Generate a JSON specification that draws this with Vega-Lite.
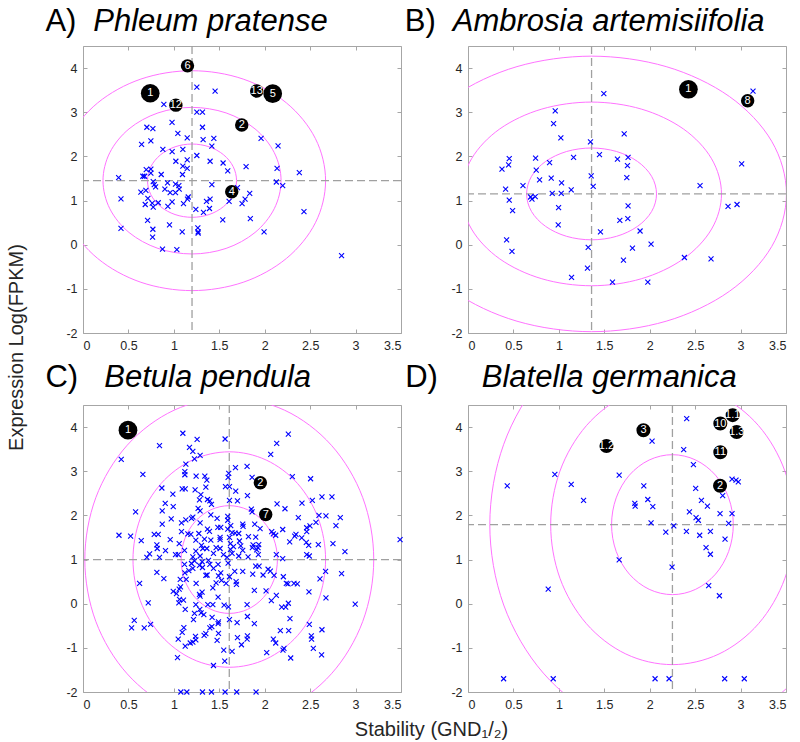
{
"$schema": "https://vega.github.io/schema/vega-lite/v6.json",
"background": "white",
"padding": {"left": 5, "top": 5, "right": 5, "bottom": 5},
"config": {
  "font": "Liberation Sans",
  "view": {"stroke": "#a6a6a6"},
  "axis": {"grid": false, "domain": false, "tickColor": "#a6a6a6", "tickSize": -4, "labelFontSize": 12.5, "labelColor": "#262626", "labelPadding": 10, "labelFont": "Liberation Sans", "titleFont": "Liberation Sans", "titleFontWeight": "normal", "titleFontSize": 20, "titleColor": "#262626"}
},
"datasets": {
"A": [{"x":1.253,"y":3.57},{"x":1.454,"y":3.48},{"x":0.89,"y":3.18},{"x":1.253,"y":3.0},{"x":1.315,"y":3.0},{"x":0.98,"y":2.77},{"x":0.703,"y":2.66},{"x":0.769,"y":2.63},{"x":1.315,"y":2.66},{"x":1.044,"y":2.52},{"x":0.645,"y":2.27},{"x":0.747,"y":2.35},{"x":1.147,"y":2.42},{"x":1.322,"y":2.38},{"x":1.44,"y":2.41},{"x":1.418,"y":2.23},{"x":0.879,"y":2.16},{"x":0.981,"y":2.11},{"x":1.099,"y":2.16},{"x":1.96,"y":2.41},{"x":2.147,"y":2.24},{"x":1.253,"y":2.02},{"x":1.022,"y":1.89},{"x":1.147,"y":1.92},{"x":1.399,"y":1.89},{"x":1.542,"y":1.85},{"x":1.593,"y":1.67},{"x":1.795,"y":1.77},{"x":2.136,"y":1.73},{"x":2.381,"y":1.63},{"x":0.696,"y":1.7},{"x":0.747,"y":1.71},{"x":0.747,"y":1.62},{"x":1.099,"y":1.78},{"x":1.147,"y":1.73},{"x":1.095,"y":1.59},{"x":0.861,"y":1.59},{"x":0.392,"y":1.52},{"x":0.659,"y":1.55},{"x":0.678,"y":1.55},{"x":0.773,"y":1.43},{"x":0.784,"y":1.36},{"x":0.799,"y":1.31},{"x":0.93,"y":1.4},{"x":1.018,"y":1.37},{"x":1.055,"y":1.34},{"x":1.059,"y":1.26},{"x":0.901,"y":1.26},{"x":0.959,"y":1.18},{"x":1.018,"y":1.18},{"x":0.692,"y":1.23},{"x":0.637,"y":1.19},{"x":0.714,"y":1.05},{"x":0.418,"y":1.04},{"x":0.685,"y":0.91},{"x":0.762,"y":0.94},{"x":0.773,"y":0.85},{"x":0.828,"y":0.95},{"x":0.981,"y":0.97},{"x":0.934,"y":0.87},{"x":1.106,"y":0.93},{"x":1.15,"y":1.03},{"x":1.158,"y":1.08},{"x":1.418,"y":1.36},{"x":1.399,"y":1.03},{"x":1.359,"y":0.98},{"x":1.392,"y":0.82},{"x":1.326,"y":0.73},{"x":1.242,"y":0.8},{"x":1.608,"y":0.98},{"x":1.7,"y":1.29},{"x":1.751,"y":0.93},{"x":1.784,"y":1.03},{"x":1.835,"y":1.16},{"x":2.128,"y":1.42},{"x":2.198,"y":1.34},{"x":1.842,"y":0.59},{"x":1.538,"y":0.56},{"x":0.711,"y":0.55},{"x":0.952,"y":0.45},{"x":0.418,"y":0.37},{"x":0.769,"y":0.35},{"x":0.766,"y":0.17},{"x":1.092,"y":0.29},{"x":1.264,"y":0.38},{"x":1.267,"y":0.29},{"x":1.267,"y":0.26},{"x":1.993,"y":0.29},{"x":2.432,"y":0.75},{"x":0.875,"y":-0.1},{"x":1.033,"y":-0.11},{"x":2.846,"y":-0.25}],
"B": [{"x":1.495,"y":3.42},{"x":3.137,"y":3.48},{"x":0.96,"y":3.03},{"x":0.942,"y":2.74},{"x":1.022,"y":2.42},{"x":1.719,"y":2.51},{"x":1.348,"y":2.33},{"x":1.447,"y":2.04},{"x":1.645,"y":1.94},{"x":1.762,"y":1.98},{"x":1.755,"y":1.79},{"x":1.748,"y":1.52},{"x":1.162,"y":1.98},{"x":0.898,"y":1.86},{"x":0.454,"y":1.95},{"x":0.447,"y":1.81},{"x":0.374,"y":1.71},{"x":0.744,"y":1.96},{"x":0.751,"y":1.69},{"x":0.788,"y":1.47},{"x":0.916,"y":1.51},{"x":1.03,"y":1.4},{"x":1.356,"y":1.56},{"x":1.378,"y":1.32},{"x":1.136,"y":1.24},{"x":0.605,"y":1.34},{"x":0.414,"y":1.26},{"x":0.927,"y":1.16},{"x":1.026,"y":1.16},{"x":0.689,"y":1.08},{"x":0.704,"y":1.03},{"x":0.74,"y":1.09},{"x":0.454,"y":1.01},{"x":0.491,"y":0.77},{"x":0.997,"y":0.84},{"x":0.993,"y":0.45},{"x":1.762,"y":0.88},{"x":1.759,"y":0.59},{"x":1.671,"y":0.55},{"x":1.458,"y":0.29},{"x":1.894,"y":0.31},{"x":2.015,"y":0.015},{"x":1.81,"y":-0.08},{"x":1.323,"y":-0.06},{"x":0.425,"y":0.11},{"x":0.484,"y":-0.15},{"x":1.711,"y":-0.35},{"x":2.382,"y":-0.29},{"x":2.675,"y":-0.32},{"x":1.315,"y":-0.53},{"x":1.14,"y":-0.74},{"x":1.59,"y":-0.85},{"x":1.979,"y":-0.85},{"x":2.554,"y":1.34},{"x":3.012,"y":1.83},{"x":2.862,"y":0.87},{"x":2.961,"y":0.91}],
"C": [{"x":1.099,"y":3.86},{"x":1.564,"y":3.73},{"x":1.256,"y":3.72},{"x":2.26,"y":3.84},{"x":2.132,"y":3.63},{"x":0.842,"y":3.58},{"x":1.172,"y":3.54},{"x":1.209,"y":3.45},{"x":1.289,"y":3.36},{"x":1.227,"y":3.28},{"x":1.132,"y":3.16},{"x":0.421,"y":3.27},{"x":2.066,"y":3.38},{"x":1.678,"y":3.08},{"x":1.806,"y":3.11},{"x":1.604,"y":2.95},{"x":1.597,"y":2.86},{"x":1.121,"y":2.99},{"x":1.121,"y":2.92},{"x":0.659,"y":2.93},{"x":1.245,"y":2.89},{"x":1.341,"y":2.89},{"x":1.363,"y":2.8},{"x":1.352,"y":2.64},{"x":1.861,"y":2.86},{"x":2.304,"y":2.88},{"x":2.505,"y":2.83},{"x":0.868,"y":2.62},{"x":1.092,"y":2.6},{"x":1.125,"y":2.6},{"x":1.234,"y":2.58},{"x":1.568,"y":2.65},{"x":1.612,"y":2.65},{"x":1.681,"y":2.55},{"x":0.989,"y":2.48},{"x":1.297,"y":2.47},{"x":1.81,"y":2.45},{"x":2.63,"y":2.42},{"x":2.74,"y":2.42},{"x":2.524,"y":2.34},{"x":0.905,"y":2.27},{"x":1.282,"y":2.35},{"x":1.37,"y":2.36},{"x":1.396,"y":2.33},{"x":1.612,"y":2.34},{"x":1.7,"y":2.33},{"x":2.136,"y":2.26},{"x":2.41,"y":2.28},{"x":0.579,"y":2.08},{"x":0.993,"y":2.2},{"x":1.267,"y":2.16},{"x":1.289,"y":2.1},{"x":1.414,"y":2.25},{"x":0.872,"y":2.1},{"x":2.223,"y":2.15},{"x":1.853,"y":2.14},{"x":1.861,"y":2.08},{"x":1.407,"y":2.01},{"x":1.593,"y":1.98},{"x":1.593,"y":1.89},{"x":1.209,"y":1.96},{"x":1.194,"y":1.93},{"x":1.132,"y":1.9},{"x":0.971,"y":1.92},{"x":2.37,"y":1.95},{"x":2.597,"y":2.0},{"x":2.674,"y":1.99},{"x":2.832,"y":1.95},{"x":1.476,"y":1.93},{"x":1.758,"y":1.8},{"x":1.762,"y":1.75},{"x":1.89,"y":1.8},{"x":1.084,"y":1.83},{"x":1.289,"y":1.83},{"x":0.872,"y":1.8},{"x":1.084,"y":1.63},{"x":1.154,"y":1.58},{"x":1.187,"y":1.57},{"x":1.275,"y":1.59},{"x":1.37,"y":1.69},{"x":1.392,"y":1.64},{"x":1.484,"y":1.73},{"x":1.516,"y":1.73},{"x":1.593,"y":1.69},{"x":1.626,"y":1.77},{"x":1.641,"y":1.61},{"x":1.674,"y":1.6},{"x":1.714,"y":1.59},{"x":1.949,"y":1.7},{"x":2.077,"y":1.63},{"x":2.095,"y":1.58},{"x":2.121,"y":1.55},{"x":2.198,"y":1.68},{"x":2.33,"y":1.53},{"x":2.344,"y":1.57},{"x":2.407,"y":1.49},{"x":2.462,"y":1.72},{"x":2.462,"y":1.63},{"x":2.498,"y":1.76},{"x":2.564,"y":1.84},{"x":2.784,"y":1.77},{"x":0.396,"y":1.55},{"x":0.524,"y":1.53},{"x":0.784,"y":1.57},{"x":0.828,"y":1.57},{"x":0.641,"y":1.43},{"x":0.96,"y":1.45},{"x":0.813,"y":1.33},{"x":0.817,"y":1.25},{"x":1.059,"y":1.36},{"x":1.242,"y":1.44},{"x":1.337,"y":1.46},{"x":1.407,"y":1.44},{"x":1.509,"y":1.5},{"x":1.509,"y":1.45},{"x":1.612,"y":1.5},{"x":1.623,"y":1.36},{"x":1.722,"y":1.42},{"x":1.821,"y":1.52},{"x":1.901,"y":1.51},{"x":1.872,"y":1.33},{"x":1.934,"y":1.34},{"x":1.926,"y":1.27},{"x":1.912,"y":1.22},{"x":1.864,"y":1.27},{"x":1.736,"y":1.31},{"x":1.758,"y":1.21},{"x":1.656,"y":1.29},{"x":1.623,"y":1.23},{"x":1.509,"y":1.25},{"x":1.465,"y":1.27},{"x":1.304,"y":1.32},{"x":1.319,"y":1.25},{"x":1.363,"y":1.25},{"x":1.242,"y":1.19},{"x":1.117,"y":1.21},{"x":0.908,"y":1.2},{"x":1.018,"y":1.11},{"x":1.048,"y":1.11},{"x":2.458,"y":1.39},{"x":2.484,"y":1.32},{"x":2.462,"y":1.11},{"x":2.491,"y":1.08},{"x":2.59,"y":1.34},{"x":2.751,"y":1.36},{"x":2.883,"y":1.18},{"x":2.275,"y":1.4},{"x":2.128,"y":1.11},{"x":2.198,"y":1.02},{"x":0.703,"y":1.05},{"x":0.733,"y":1.13},{"x":0.842,"y":1.05},{"x":1.209,"y":1.06},{"x":1.289,"y":1.08},{"x":1.436,"y":1.14},{"x":1.546,"y":1.11},{"x":1.586,"y":1.05},{"x":1.641,"y":1.14},{"x":1.714,"y":1.08},{"x":1.817,"y":1.06},{"x":1.93,"y":1.11},{"x":1.227,"y":0.97},{"x":1.117,"y":0.89},{"x":1.194,"y":0.91},{"x":1.282,"y":0.87},{"x":1.311,"y":0.95},{"x":1.381,"y":0.98},{"x":1.396,"y":0.89},{"x":1.487,"y":0.89},{"x":1.597,"y":0.92},{"x":1.209,"y":0.8},{"x":1.165,"y":0.75},{"x":1.315,"y":0.82},{"x":1.436,"y":0.8},{"x":1.67,"y":0.73},{"x":1.758,"y":0.73},{"x":1.901,"y":0.85},{"x":1.938,"y":0.85},{"x":2.037,"y":0.78},{"x":2.062,"y":0.74},{"x":1.982,"y":0.65},{"x":1.868,"y":0.67},{"x":2.103,"y":0.64},{"x":2.205,"y":0.61},{"x":2.67,"y":0.73},{"x":2.608,"y":0.56},{"x":2.846,"y":0.68},{"x":1.121,"y":0.7},{"x":0.813,"y":0.71},{"x":0.89,"y":0.57},{"x":1.07,"y":0.55},{"x":1.136,"y":0.55},{"x":1.073,"y":0.38},{"x":1.059,"y":0.33},{"x":1.366,"y":0.65},{"x":1.352,"y":0.64},{"x":1.516,"y":0.7},{"x":1.491,"y":0.63},{"x":1.524,"y":0.53},{"x":1.465,"y":0.47},{"x":1.575,"y":0.46},{"x":1.685,"y":0.5},{"x":1.689,"y":0.44},{"x":1.612,"y":0.61},{"x":1.245,"y":0.46},{"x":1.429,"y":0.36},{"x":1.311,"y":0.26},{"x":1.282,"y":0.21},{"x":1.289,"y":0.17},{"x":1.487,"y":0.15},{"x":1.886,"y":0.3},{"x":2.015,"y":0.29},{"x":2.128,"y":0.19},{"x":2.238,"y":0.46},{"x":2.256,"y":0.45},{"x":2.322,"y":0.46},{"x":2.359,"y":0.45},{"x":2.487,"y":0.27},{"x":2.674,"y":0.13},{"x":0.993,"y":0.28},{"x":1.029,"y":0.23},{"x":1.062,"y":0.1},{"x":1.106,"y":0.08},{"x":0.623,"y":0.46},{"x":0.718,"y":0.02},{"x":1.055,"y":0.02},{"x":1.242,"y":-0.02},{"x":1.374,"y":-0.02},{"x":1.429,"y":-0.02},{"x":1.553,"y":-0.03},{"x":1.601,"y":-0.07},{"x":1.806,"y":-0.02},{"x":2.073,"y":0.07},{"x":2.187,"y":-0.08},{"x":2.231,"y":-0.08},{"x":2.26,"y":0.01},{"x":2.996,"y":-0.01},{"x":1.125,"y":-0.13},{"x":1.286,"y":-0.13},{"x":1.3,"y":-0.21},{"x":1.227,"y":-0.22},{"x":1.33,"y":-0.25},{"x":1.216,"y":-0.36},{"x":1.421,"y":-0.31},{"x":1.491,"y":-0.41},{"x":1.487,"y":-0.45},{"x":1.612,"y":-0.36},{"x":1.696,"y":-0.43},{"x":1.81,"y":-0.29},{"x":1.886,"y":-0.45},{"x":2.278,"y":-0.34},{"x":1.418,"y":-0.52},{"x":1.396,"y":-0.55},{"x":1.352,"y":-0.68},{"x":1.333,"y":-0.72},{"x":1.238,"y":-0.74},{"x":1.242,"y":-0.82},{"x":1.18,"y":-0.89},{"x":1.209,"y":-0.87},{"x":1.125,"y":-0.96},{"x":1.11,"y":-0.54},{"x":1.092,"y":-0.65},{"x":1.048,"y":-0.8},{"x":1.491,"y":-0.67},{"x":1.476,"y":-0.83},{"x":1.7,"y":-0.77},{"x":1.744,"y":-0.93},{"x":1.81,"y":-0.73},{"x":1.806,"y":-0.8},{"x":0.564,"y":-0.38},{"x":0.535,"y":-0.55},{"x":0.674,"y":-0.55},{"x":0.744,"y":-0.47},{"x":2.172,"y":-0.61},{"x":2.264,"y":-0.61},{"x":2.095,"y":-0.8},{"x":2.121,"y":-0.89},{"x":2.212,"y":-1.01},{"x":2.201,"y":-1.05},{"x":2.491,"y":-0.47},{"x":2.513,"y":-0.73},{"x":2.516,"y":-0.8},{"x":2.535,"y":-1.01},{"x":2.63,"y":-0.59},{"x":2.626,"y":-1.16},{"x":2.286,"y":-1.23},{"x":2.022,"y":-1.11},{"x":1.641,"y":-1.08},{"x":1.549,"y":-1.05},{"x":1.56,"y":-1.3},{"x":1.436,"y":-1.4},{"x":1.04,"y":-1.22},{"x":1.077,"y":-2.0},{"x":1.143,"y":-2.0},{"x":1.315,"y":-2.0},{"x":1.414,"y":-2.0},{"x":1.564,"y":-2.0},{"x":1.692,"y":-2.0},{"x":1.905,"y":-2.0},{"x":3.49,"y":1.45}],
"D": [{"x":2.407,"y":4.19},{"x":2.026,"y":3.68},{"x":2.374,"y":3.49},{"x":2.481,"y":3.15},{"x":0.956,"y":2.93},{"x":1.664,"y":2.91},{"x":1.136,"y":2.7},{"x":0.432,"y":2.67},{"x":1.935,"y":2.67},{"x":1.272,"y":2.34},{"x":1.979,"y":2.36},{"x":1.836,"y":2.27},{"x":1.84,"y":2.21},{"x":2.034,"y":2.2},{"x":2.506,"y":2.61},{"x":2.569,"y":2.34},{"x":2.635,"y":2.21},{"x":2.437,"y":2.08},{"x":2.51,"y":1.95},{"x":2.535,"y":1.89},{"x":2.774,"y":2.04},{"x":2.906,"y":2.04},{"x":2.803,"y":2.45},{"x":2.906,"y":2.82},{"x":2.95,"y":2.8},{"x":2.975,"y":2.76},{"x":2.015,"y":1.83},{"x":2.265,"y":1.76},{"x":2.869,"y":1.82},{"x":2.177,"y":1.62},{"x":2.404,"y":1.64},{"x":2.55,"y":1.55},{"x":2.668,"y":1.64},{"x":2.829,"y":1.46},{"x":2.62,"y":1.27},{"x":2.668,"y":1.12},{"x":1.664,"y":0.99},{"x":2.246,"y":0.83},{"x":2.649,"y":0.41},{"x":2.767,"y":0.18},{"x":0.883,"y":0.33},{"x":0.392,"y":-1.7},{"x":0.938,"y":-1.7},{"x":2.059,"y":-1.7},{"x":2.213,"y":-1.7},{"x":2.825,"y":-1.7},{"x":3.041,"y":-1.7}],
"cA": [{"x":1.15,"y":4.05,"label":"6","w":1},{"x":0.74,"y":3.43,"label":"1","w":2},{"x":1.022,"y":3.16,"label":"12","w":1},{"x":1.912,"y":3.48,"label":"13","w":1},{"x":2.088,"y":3.42,"label":"5","w":2},{"x":1.747,"y":2.71,"label":"2","w":1},{"x":1.637,"y":1.2,"label":"4","w":1}],
"cB": [{"x":2.426,"y":3.52,"label":"1","w":2},{"x":3.078,"y":3.26,"label":"8","w":1}],
"cC": [{"x":0.495,"y":3.93,"label":"1","w":2},{"x":1.952,"y":2.74,"label":"2","w":1},{"x":2.011,"y":2.02,"label":"7","w":1}],
"cD": [{"x":2.913,"y":4.27,"label":"1.1","w":1.1},{"x":2.777,"y":4.08,"label":"10","w":1.1},{"x":2.957,"y":3.89,"label":"1.3","w":1.1},{"x":1.931,"y":3.93,"label":"3","w":1.1},{"x":1.524,"y":3.57,"label":"1.2","w":1.1},{"x":2.777,"y":3.43,"label":"11","w":1.1},{"x":2.774,"y":2.67,"label":"2","w":1.1}],
"eA": [{"r":1,"i":0,"x":1.69,"y":1.45},{"r":1,"i":1,"x":1.653,"y":1.768},{"r":1,"i":2,"x":1.547,"y":2.037},{"r":1,"i":3,"x":1.388,"y":2.217},{"r":1,"i":4,"x":1.2,"y":2.28},{"r":1,"i":5,"x":1.013,"y":2.217},{"r":1,"i":6,"x":0.854,"y":2.037},{"r":1,"i":7,"x":0.747,"y":1.768},{"r":1,"i":8,"x":0.71,"y":1.45},{"r":1,"i":9,"x":0.747,"y":1.132},{"r":1,"i":10,"x":0.854,"y":0.863},{"r":1,"i":11,"x":1.013,"y":0.683},{"r":1,"i":12,"x":1.2,"y":0.62},{"r":1,"i":13,"x":1.388,"y":0.683},{"r":1,"i":14,"x":1.547,"y":0.863},{"r":1,"i":15,"x":1.653,"y":1.132},
{"r":2,"i":0,"x":2.18,"y":1.45},{"r":2,"i":1,"x":2.105,"y":2.085},{"r":2,"i":2,"x":1.893,"y":2.624},{"r":2,"i":3,"x":1.575,"y":2.984},{"r":2,"i":4,"x":1.2,"y":3.11},{"r":2,"i":5,"x":0.825,"y":2.984},{"r":2,"i":6,"x":0.507,"y":2.624},{"r":2,"i":7,"x":0.295,"y":2.085},{"r":2,"i":8,"x":0.22,"y":1.45},{"r":2,"i":9,"x":0.295,"y":0.815},{"r":2,"i":10,"x":0.507,"y":0.276},{"r":2,"i":11,"x":0.825,"y":-0.084},{"r":2,"i":12,"x":1.2,"y":-0.21},{"r":2,"i":13,"x":1.575,"y":-0.084},{"r":2,"i":14,"x":1.893,"y":0.276},{"r":2,"i":15,"x":2.105,"y":0.815},
{"r":3,"i":0,"x":2.67,"y":1.45},{"r":3,"i":1,"x":2.558,"y":2.403},{"r":3,"i":2,"x":2.239,"y":3.211},{"r":3,"i":3,"x":1.763,"y":3.751},{"r":3,"i":4,"x":1.2,"y":3.94},{"r":3,"i":5,"x":0.637,"y":3.751},{"r":3,"i":6,"x":0.161,"y":3.211},{"r":3,"i":7,"x":-0.158,"y":2.403},{"r":3,"i":8,"x":-0.27,"y":1.45},{"r":3,"i":9,"x":-0.158,"y":0.497},{"r":3,"i":10,"x":0.161,"y":-0.311},{"r":3,"i":11,"x":0.637,"y":-0.851},{"r":3,"i":12,"x":1.2,"y":-1.04},{"r":3,"i":13,"x":1.763,"y":-0.851},{"r":3,"i":14,"x":2.239,"y":-0.311},{"r":3,"i":15,"x":2.558,"y":0.497}],
"eB": [{"r":1,"i":0,"x":2.075,"y":1.15},{"r":1,"i":1,"x":2.021,"y":1.548},{"r":1,"i":2,"x":1.866,"y":1.885},{"r":1,"i":3,"x":1.634,"y":2.111},{"r":1,"i":4,"x":1.36,"y":2.19},{"r":1,"i":5,"x":1.086,"y":2.111},{"r":1,"i":6,"x":0.854,"y":1.885},{"r":1,"i":7,"x":0.699,"y":1.548},{"r":1,"i":8,"x":0.645,"y":1.15},{"r":1,"i":9,"x":0.699,"y":0.752},{"r":1,"i":10,"x":0.854,"y":0.415},{"r":1,"i":11,"x":1.086,"y":0.189},{"r":1,"i":12,"x":1.36,"y":0.11},{"r":1,"i":13,"x":1.634,"y":0.189},{"r":1,"i":14,"x":1.866,"y":0.415},{"r":1,"i":15,"x":2.021,"y":0.752},
{"r":2,"i":0,"x":2.79,"y":1.15},{"r":2,"i":1,"x":2.681,"y":1.946},{"r":2,"i":2,"x":2.371,"y":2.621},{"r":2,"i":3,"x":1.907,"y":3.072},{"r":2,"i":4,"x":1.36,"y":3.23},{"r":2,"i":5,"x":0.813,"y":3.072},{"r":2,"i":6,"x":0.349,"y":2.621},{"r":2,"i":7,"x":0.039,"y":1.946},{"r":2,"i":8,"x":-0.07,"y":1.15},{"r":2,"i":9,"x":0.039,"y":0.354},{"r":2,"i":10,"x":0.349,"y":-0.321},{"r":2,"i":11,"x":0.813,"y":-0.772},{"r":2,"i":12,"x":1.36,"y":-0.93},{"r":2,"i":13,"x":1.907,"y":-0.772},{"r":2,"i":14,"x":2.371,"y":-0.321},{"r":2,"i":15,"x":2.681,"y":0.354},
{"r":3,"i":0,"x":3.505,"y":1.15},{"r":3,"i":1,"x":3.342,"y":2.344},{"r":3,"i":2,"x":2.877,"y":3.356},{"r":3,"i":3,"x":2.181,"y":4.033},{"r":3,"i":4,"x":1.36,"y":4.27},{"r":3,"i":5,"x":0.539,"y":4.033},{"r":3,"i":6,"x":-0.157,"y":3.356},{"r":3,"i":7,"x":-0.622,"y":2.344},{"r":3,"i":8,"x":-0.785,"y":1.15},{"r":3,"i":9,"x":-0.622,"y":-0.044},{"r":3,"i":10,"x":-0.157,"y":-1.056},{"r":3,"i":11,"x":0.539,"y":-1.733},{"r":3,"i":12,"x":1.36,"y":-1.97},{"r":3,"i":13,"x":2.181,"y":-1.733},{"r":3,"i":14,"x":2.877,"y":-1.056},{"r":3,"i":15,"x":3.342,"y":-0.044}],
"eC": [{"r":1,"i":0,"x":2.14,"y":1.0},{"r":1,"i":1,"x":2.1,"y":1.467},{"r":1,"i":2,"x":1.985,"y":1.863},{"r":1,"i":3,"x":1.813,"y":2.127},{"r":1,"i":4,"x":1.61,"y":2.22},{"r":1,"i":5,"x":1.407,"y":2.127},{"r":1,"i":6,"x":1.235,"y":1.863},{"r":1,"i":7,"x":1.12,"y":1.467},{"r":1,"i":8,"x":1.08,"y":1.0},{"r":1,"i":9,"x":1.12,"y":0.533},{"r":1,"i":10,"x":1.235,"y":0.137},{"r":1,"i":11,"x":1.407,"y":-0.127},{"r":1,"i":12,"x":1.61,"y":-0.22},{"r":1,"i":13,"x":1.813,"y":-0.127},{"r":1,"i":14,"x":1.985,"y":0.137},{"r":1,"i":15,"x":2.1,"y":0.533},
{"r":2,"i":0,"x":2.67,"y":1.0},{"r":2,"i":1,"x":2.589,"y":1.934},{"r":2,"i":2,"x":2.36,"y":2.725},{"r":2,"i":3,"x":2.016,"y":3.254},{"r":2,"i":4,"x":1.61,"y":3.44},{"r":2,"i":5,"x":1.204,"y":3.254},{"r":2,"i":6,"x":0.861,"y":2.725},{"r":2,"i":7,"x":0.631,"y":1.934},{"r":2,"i":8,"x":0.55,"y":1.0},{"r":2,"i":9,"x":0.631,"y":0.066},{"r":2,"i":10,"x":0.861,"y":-0.725},{"r":2,"i":11,"x":1.204,"y":-1.254},{"r":2,"i":12,"x":1.61,"y":-1.44},{"r":2,"i":13,"x":2.016,"y":-1.254},{"r":2,"i":14,"x":2.36,"y":-0.725},{"r":2,"i":15,"x":2.589,"y":0.066},
{"r":3,"i":0,"x":3.2,"y":1.0},{"r":3,"i":1,"x":3.079,"y":2.401},{"r":3,"i":2,"x":2.734,"y":3.588},{"r":3,"i":3,"x":2.219,"y":4.382},{"r":3,"i":4,"x":1.61,"y":4.66},{"r":3,"i":5,"x":1.002,"y":4.382},{"r":3,"i":6,"x":0.486,"y":3.588},{"r":3,"i":7,"x":0.141,"y":2.401},{"r":3,"i":8,"x":0.02,"y":1.0},{"r":3,"i":9,"x":0.141,"y":-0.401},{"r":3,"i":10,"x":0.486,"y":-1.588},{"r":3,"i":11,"x":1.002,"y":-2.382},{"r":3,"i":12,"x":1.61,"y":-2.66},{"r":3,"i":13,"x":2.219,"y":-2.382},{"r":3,"i":14,"x":2.734,"y":-1.588},{"r":3,"i":15,"x":3.079,"y":-0.401}],
"eD": [{"r":1,"i":0,"x":2.92,"y":1.79},{"r":1,"i":1,"x":2.869,"y":2.397},{"r":1,"i":2,"x":2.724,"y":2.911},{"r":1,"i":3,"x":2.506,"y":3.254},{"r":1,"i":4,"x":2.25,"y":3.375},{"r":1,"i":5,"x":1.994,"y":3.254},{"r":1,"i":6,"x":1.776,"y":2.911},{"r":1,"i":7,"x":1.631,"y":2.397},{"r":1,"i":8,"x":1.58,"y":1.79},{"r":1,"i":9,"x":1.631,"y":1.183},{"r":1,"i":10,"x":1.776,"y":0.669},{"r":1,"i":11,"x":1.994,"y":0.326},{"r":1,"i":12,"x":2.25,"y":0.205},{"r":1,"i":13,"x":2.506,"y":0.326},{"r":1,"i":14,"x":2.724,"y":0.669},{"r":1,"i":15,"x":2.869,"y":1.183},
{"r":2,"i":0,"x":3.59,"y":1.79},{"r":2,"i":1,"x":3.488,"y":3.003},{"r":2,"i":2,"x":3.198,"y":4.032},{"r":2,"i":3,"x":2.763,"y":4.719},{"r":2,"i":4,"x":2.25,"y":4.96},{"r":2,"i":5,"x":1.737,"y":4.719},{"r":2,"i":6,"x":1.303,"y":4.032},{"r":2,"i":7,"x":1.012,"y":3.003},{"r":2,"i":8,"x":0.91,"y":1.79},{"r":2,"i":9,"x":1.012,"y":0.577},{"r":2,"i":10,"x":1.303,"y":-0.452},{"r":2,"i":11,"x":1.737,"y":-1.139},{"r":2,"i":12,"x":2.25,"y":-1.38},{"r":2,"i":13,"x":2.763,"y":-1.139},{"r":2,"i":14,"x":3.198,"y":-0.452},{"r":2,"i":15,"x":3.488,"y":0.577},
{"r":3,"i":0,"x":4.26,"y":1.79},{"r":3,"i":1,"x":4.107,"y":3.61},{"r":3,"i":2,"x":3.671,"y":5.152},{"r":3,"i":3,"x":3.019,"y":6.183},{"r":3,"i":4,"x":2.25,"y":6.545},{"r":3,"i":5,"x":1.481,"y":6.183},{"r":3,"i":6,"x":0.829,"y":5.152},{"r":3,"i":7,"x":0.393,"y":3.61},{"r":3,"i":8,"x":0.24,"y":1.79},{"r":3,"i":9,"x":0.393,"y":-0.03},{"r":3,"i":10,"x":0.829,"y":-1.572},{"r":3,"i":11,"x":1.481,"y":-2.603},{"r":3,"i":12,"x":2.25,"y":-2.965},{"r":3,"i":13,"x":3.019,"y":-2.603},{"r":3,"i":14,"x":3.671,"y":-1.572},{"r":3,"i":15,"x":4.107,"y":-0.03}]
},
"columns": 2,
"spacing": {"row": 72, "column": 67},
"bounds": "flush",
"concat": [
{
 "width": 318, "height": 287,
 "layer": [
  {"data": {"name": "eA"}, "mark": {"type": "line", "interpolate": "cardinal-closed", "clip": true, "stroke": "#ff73ff", "strokeWidth": 1},
   "encoding": {"x": {"field": "x", "type": "quantitative", "scale": {"domain": [0, 3.5], "nice": false}, "axis": null}, "y": {"field": "y", "type": "quantitative", "scale": {"domain": [-2, 4.5], "nice": false}, "axis": null}, "detail": {"field": "r"}, "order": {"field": "i"}}},
  {"data": {"values": [{"cx": 1.2}]}, "mark": {"type": "rule", "strokeDash": [8, 4], "stroke": "#a0a0a0", "strokeWidth": 1.3},
   "encoding": {"x": {"field": "cx", "type": "quantitative", "scale": {"domain": [0, 3.5], "nice": false}, "axis": {"orient": "top", "values": [0, 0.5, 1, 1.5, 2, 2.5, 3, 3.5], "labels": false, "title": null}}}},
  {"data": {"values": [{"cy": 1.45}]}, "mark": {"type": "rule", "strokeDash": [8, 4], "stroke": "#a0a0a0", "strokeWidth": 1.3},
   "encoding": {"y": {"field": "cy", "type": "quantitative", "scale": {"domain": [-2, 4.5], "nice": false}, "axis": {"orient": "right", "values": [-2, -1, 0, 1, 2, 3, 4], "labels": false, "title": null}}}},
  {"data": {"name": "A"}, "mark": {"type": "point", "shape": "M-1,-1L1,1M-1,1L1,-1", "filled": false, "stroke": "#0000ff", "strokeWidth": 1.1, "size": 25, "opacity": 1},
   "encoding": {"x": {"field": "x", "type": "quantitative", "scale": {"domain": [0, 3.5], "nice": false}, "axis": {"orient": "bottom", "values": [0, 0.5, 1, 1.5, 2, 2.5, 3, 3.5], "labelExpr": "toString(datum.value)", "title": null}},
                "y": {"field": "y", "type": "quantitative", "scale": {"domain": [-2, 4.5], "nice": false}, "axis": {"orient": "left", "values": [-2, -1, 0, 1, 2, 3, 4], "labelExpr": "toString(datum.value)", "title": "Expression Log(FPKM)", "titleX": -61, "titleY": 301, "titleAngle": -90, "titleAlign": "center", "titleBaseline": "alphabetic"}}}},
  {"data": {"name": "cA"}, "mark": {"type": "circle", "color": "#000000", "opacity": 1},
   "encoding": {"x": {"field": "x", "type": "quantitative", "scale": {"domain": [0, 3.5], "nice": false}, "axis": null}, "y": {"field": "y", "type": "quantitative", "scale": {"domain": [-2, 4.5], "nice": false}, "axis": null}, "size": {"field": "w", "type": "quantitative", "scale": {"domain": [1, 2], "range": [180, 350]}, "legend": null}}},
  {"data": {"name": "cA"}, "mark": {"type": "text", "color": "#ffffff", "fontSize": 11, "baseline": "middle", "align": "center"},
   "encoding": {"x": {"field": "x", "type": "quantitative", "scale": {"domain": [0, 3.5], "nice": false}, "axis": null}, "y": {"field": "y", "type": "quantitative", "scale": {"domain": [-2, 4.5], "nice": false}, "axis": null}, "text": {"field": "label"}}},
  {"data": {"values": [{"lbl": "A)"}]}, "mark": {"type": "text", "fontSize": 31, "align": "left", "baseline": "alphabetic", "color": "#000000"},
   "encoding": {"x": {"datum": -0.414, "type": "quantitative", "scale": {"domain": [0, 3.5], "nice": false}, "axis": null}, "y": {"datum": 4.84, "type": "quantitative", "scale": {"domain": [-2, 4.5], "nice": false}, "axis": null}, "text": {"field": "lbl"}}},
  {"data": {"values": [{"sp": "Phleum pratense"}]}, "mark": {"type": "text", "fontSize": 31, "fontStyle": "italic", "align": "left", "baseline": "alphabetic", "color": "#000000"},
   "encoding": {"x": {"datum": 0.113, "type": "quantitative", "scale": {"domain": [0, 3.5], "nice": false}, "axis": null}, "y": {"datum": 4.84, "type": "quantitative", "scale": {"domain": [-2, 4.5], "nice": false}, "axis": null}, "text": {"field": "sp"}}}
 ],
 "resolve": {"axis": {"x": "independent", "y": "independent"}}
},
{
 "width": 318, "height": 287,
 "layer": [
  {"data": {"name": "eB"}, "mark": {"type": "line", "interpolate": "cardinal-closed", "clip": true, "stroke": "#ff73ff", "strokeWidth": 1},
   "encoding": {"x": {"field": "x", "type": "quantitative", "scale": {"domain": [0, 3.5], "nice": false}, "axis": null}, "y": {"field": "y", "type": "quantitative", "scale": {"domain": [-2, 4.5], "nice": false}, "axis": null}, "detail": {"field": "r"}, "order": {"field": "i"}}},
  {"data": {"values": [{"cx": 1.36}]}, "mark": {"type": "rule", "strokeDash": [8, 4], "stroke": "#a0a0a0", "strokeWidth": 1.3},
   "encoding": {"x": {"field": "cx", "type": "quantitative", "scale": {"domain": [0, 3.5], "nice": false}, "axis": {"orient": "top", "values": [0, 0.5, 1, 1.5, 2, 2.5, 3, 3.5], "labels": false, "title": null}}}},
  {"data": {"values": [{"cy": 1.15}]}, "mark": {"type": "rule", "strokeDash": [8, 4], "stroke": "#a0a0a0", "strokeWidth": 1.3},
   "encoding": {"y": {"field": "cy", "type": "quantitative", "scale": {"domain": [-2, 4.5], "nice": false}, "axis": {"orient": "right", "values": [-2, -1, 0, 1, 2, 3, 4], "labels": false, "title": null}}}},
  {"data": {"name": "B"}, "mark": {"type": "point", "shape": "M-1,-1L1,1M-1,1L1,-1", "filled": false, "stroke": "#0000ff", "strokeWidth": 1.1, "size": 25, "opacity": 1},
   "encoding": {"x": {"field": "x", "type": "quantitative", "scale": {"domain": [0, 3.5], "nice": false}, "axis": {"orient": "bottom", "values": [0, 0.5, 1, 1.5, 2, 2.5, 3, 3.5], "labelExpr": "toString(datum.value)", "title": null}},
                "y": {"field": "y", "type": "quantitative", "scale": {"domain": [-2, 4.5], "nice": false}, "axis": {"orient": "left", "values": [-2, -1, 0, 1, 2, 3, 4], "labelExpr": "toString(datum.value)", "title": null}}}},
  {"data": {"name": "cB"}, "mark": {"type": "circle", "color": "#000000", "opacity": 1},
   "encoding": {"x": {"field": "x", "type": "quantitative", "scale": {"domain": [0, 3.5], "nice": false}, "axis": null}, "y": {"field": "y", "type": "quantitative", "scale": {"domain": [-2, 4.5], "nice": false}, "axis": null}, "size": {"field": "w", "type": "quantitative", "scale": {"domain": [1, 2], "range": [180, 350]}, "legend": null}}},
  {"data": {"name": "cB"}, "mark": {"type": "text", "color": "#ffffff", "fontSize": 11, "baseline": "middle", "align": "center"},
   "encoding": {"x": {"field": "x", "type": "quantitative", "scale": {"domain": [0, 3.5], "nice": false}, "axis": null}, "y": {"field": "y", "type": "quantitative", "scale": {"domain": [-2, 4.5], "nice": false}, "axis": null}, "text": {"field": "label"}}},
  {"data": {"values": [{"lbl": "B)"}]}, "mark": {"type": "text", "fontSize": 31, "align": "left", "baseline": "alphabetic", "color": "#000000"},
   "encoding": {"x": {"datum": -0.696, "type": "quantitative", "scale": {"domain": [0, 3.5], "nice": false}, "axis": null}, "y": {"datum": 4.84, "type": "quantitative", "scale": {"domain": [-2, 4.5], "nice": false}, "axis": null}, "text": {"field": "lbl"}}},
  {"data": {"values": [{"sp": "Ambrosia artemisiifolia"}]}, "mark": {"type": "text", "fontSize": 31, "fontStyle": "italic", "align": "left", "baseline": "alphabetic", "color": "#000000"},
   "encoding": {"x": {"datum": -0.168, "type": "quantitative", "scale": {"domain": [0, 3.5], "nice": false}, "axis": null}, "y": {"datum": 4.84, "type": "quantitative", "scale": {"domain": [-2, 4.5], "nice": false}, "axis": null}, "text": {"field": "sp"}}}
 ],
 "resolve": {"axis": {"x": "independent", "y": "independent"}}
},
{
 "width": 318, "height": 287,
 "layer": [
  {"data": {"name": "eC"}, "mark": {"type": "line", "interpolate": "cardinal-closed", "clip": true, "stroke": "#ff73ff", "strokeWidth": 1},
   "encoding": {"x": {"field": "x", "type": "quantitative", "scale": {"domain": [0, 3.5], "nice": false}, "axis": null}, "y": {"field": "y", "type": "quantitative", "scale": {"domain": [-2, 4.5], "nice": false}, "axis": null}, "detail": {"field": "r"}, "order": {"field": "i"}}},
  {"data": {"values": [{"cx": 1.61}]}, "mark": {"type": "rule", "strokeDash": [8, 4], "stroke": "#a0a0a0", "strokeWidth": 1.3},
   "encoding": {"x": {"field": "cx", "type": "quantitative", "scale": {"domain": [0, 3.5], "nice": false}, "axis": {"orient": "top", "values": [0, 0.5, 1, 1.5, 2, 2.5, 3, 3.5], "labels": false, "title": null}}}},
  {"data": {"values": [{"cy": 1.0}]}, "mark": {"type": "rule", "strokeDash": [8, 4], "stroke": "#a0a0a0", "strokeWidth": 1.3},
   "encoding": {"y": {"field": "cy", "type": "quantitative", "scale": {"domain": [-2, 4.5], "nice": false}, "axis": {"orient": "right", "values": [-2, -1, 0, 1, 2, 3, 4], "labels": false, "title": null}}}},
  {"data": {"name": "C"}, "mark": {"type": "point", "shape": "M-1,-1L1,1M-1,1L1,-1", "filled": false, "stroke": "#0000ff", "strokeWidth": 1.1, "size": 25, "opacity": 1},
   "encoding": {"x": {"field": "x", "type": "quantitative", "scale": {"domain": [0, 3.5], "nice": false}, "axis": {"orient": "bottom", "values": [0, 0.5, 1, 1.5, 2, 2.5, 3, 3.5], "labelExpr": "toString(datum.value)", "title": "Stability (GND₁/₂)", "titleX": 348, "titleY": 43, "titleAlign": "center", "titleBaseline": "alphabetic"}},
                "y": {"field": "y", "type": "quantitative", "scale": {"domain": [-2, 4.5], "nice": false}, "axis": {"orient": "left", "values": [-2, -1, 0, 1, 2, 3, 4], "labelExpr": "toString(datum.value)", "title": null}}}},
  {"data": {"name": "cC"}, "mark": {"type": "circle", "color": "#000000", "opacity": 1},
   "encoding": {"x": {"field": "x", "type": "quantitative", "scale": {"domain": [0, 3.5], "nice": false}, "axis": null}, "y": {"field": "y", "type": "quantitative", "scale": {"domain": [-2, 4.5], "nice": false}, "axis": null}, "size": {"field": "w", "type": "quantitative", "scale": {"domain": [1, 2], "range": [180, 350]}, "legend": null}}},
  {"data": {"name": "cC"}, "mark": {"type": "text", "color": "#ffffff", "fontSize": 11, "baseline": "middle", "align": "center"},
   "encoding": {"x": {"field": "x", "type": "quantitative", "scale": {"domain": [0, 3.5], "nice": false}, "axis": null}, "y": {"field": "y", "type": "quantitative", "scale": {"domain": [-2, 4.5], "nice": false}, "axis": null}, "text": {"field": "label"}}},
  {"data": {"values": [{"lbl": "C)"}]}, "mark": {"type": "text", "fontSize": 31, "align": "left", "baseline": "alphabetic", "color": "#000000"},
   "encoding": {"x": {"datum": -0.414, "type": "quantitative", "scale": {"domain": [0, 3.5], "nice": false}, "axis": null}, "y": {"datum": 4.91, "type": "quantitative", "scale": {"domain": [-2, 4.5], "nice": false}, "axis": null}, "text": {"field": "lbl"}}},
  {"data": {"values": [{"sp": "Betula pendula"}]}, "mark": {"type": "text", "fontSize": 31, "fontStyle": "italic", "align": "left", "baseline": "alphabetic", "color": "#000000"},
   "encoding": {"x": {"datum": 0.234, "type": "quantitative", "scale": {"domain": [0, 3.5], "nice": false}, "axis": null}, "y": {"datum": 4.91, "type": "quantitative", "scale": {"domain": [-2, 4.5], "nice": false}, "axis": null}, "text": {"field": "sp"}}}
 ],
 "resolve": {"axis": {"x": "independent", "y": "independent"}}
},
{
 "width": 318, "height": 287,
 "layer": [
  {"data": {"name": "eD"}, "mark": {"type": "line", "interpolate": "cardinal-closed", "clip": true, "stroke": "#ff73ff", "strokeWidth": 1},
   "encoding": {"x": {"field": "x", "type": "quantitative", "scale": {"domain": [0, 3.5], "nice": false}, "axis": null}, "y": {"field": "y", "type": "quantitative", "scale": {"domain": [-2, 4.5], "nice": false}, "axis": null}, "detail": {"field": "r"}, "order": {"field": "i"}}},
  {"data": {"values": [{"cx": 2.25}]}, "mark": {"type": "rule", "strokeDash": [8, 4], "stroke": "#a0a0a0", "strokeWidth": 1.3},
   "encoding": {"x": {"field": "cx", "type": "quantitative", "scale": {"domain": [0, 3.5], "nice": false}, "axis": {"orient": "top", "values": [0, 0.5, 1, 1.5, 2, 2.5, 3, 3.5], "labels": false, "title": null}}}},
  {"data": {"values": [{"cy": 1.79}]}, "mark": {"type": "rule", "strokeDash": [8, 4], "stroke": "#a0a0a0", "strokeWidth": 1.3},
   "encoding": {"y": {"field": "cy", "type": "quantitative", "scale": {"domain": [-2, 4.5], "nice": false}, "axis": {"orient": "right", "values": [-2, -1, 0, 1, 2, 3, 4], "labels": false, "title": null}}}},
  {"data": {"name": "D"}, "mark": {"type": "point", "shape": "M-1,-1L1,1M-1,1L1,-1", "filled": false, "stroke": "#0000ff", "strokeWidth": 1.1, "size": 25, "opacity": 1},
   "encoding": {"x": {"field": "x", "type": "quantitative", "scale": {"domain": [0, 3.5], "nice": false}, "axis": {"orient": "bottom", "values": [0, 0.5, 1, 1.5, 2, 2.5, 3, 3.5], "labelExpr": "toString(datum.value)", "title": null}},
                "y": {"field": "y", "type": "quantitative", "scale": {"domain": [-2, 4.5], "nice": false}, "axis": {"orient": "left", "values": [-2, -1, 0, 1, 2, 3, 4], "labelExpr": "toString(datum.value)", "title": null}}}},
  {"data": {"name": "cD"}, "mark": {"type": "circle", "color": "#000000", "opacity": 1},
   "encoding": {"x": {"field": "x", "type": "quantitative", "scale": {"domain": [0, 3.5], "nice": false}, "axis": null}, "y": {"field": "y", "type": "quantitative", "scale": {"domain": [-2, 4.5], "nice": false}, "axis": null}, "size": {"field": "w", "type": "quantitative", "scale": {"domain": [1, 2], "range": [180, 350]}, "legend": null}}},
  {"data": {"name": "cD"}, "mark": {"type": "text", "color": "#ffffff", "fontSize": 11, "baseline": "middle", "align": "center"},
   "encoding": {"x": {"field": "x", "type": "quantitative", "scale": {"domain": [0, 3.5], "nice": false}, "axis": null}, "y": {"field": "y", "type": "quantitative", "scale": {"domain": [-2, 4.5], "nice": false}, "axis": null}, "text": {"field": "label"}}},
  {"data": {"values": [{"lbl": "D)"}]}, "mark": {"type": "text", "fontSize": 31, "align": "left", "baseline": "alphabetic", "color": "#000000"},
   "encoding": {"x": {"datum": -0.692, "type": "quantitative", "scale": {"domain": [0, 3.5], "nice": false}, "axis": null}, "y": {"datum": 4.91, "type": "quantitative", "scale": {"domain": [-2, 4.5], "nice": false}, "axis": null}, "text": {"field": "lbl"}}},
  {"data": {"values": [{"sp": "Blatella germanica"}]}, "mark": {"type": "text", "fontSize": 31, "fontStyle": "italic", "align": "left", "baseline": "alphabetic", "color": "#000000"},
   "encoding": {"x": {"datum": 0.151, "type": "quantitative", "scale": {"domain": [0, 3.5], "nice": false}, "axis": null}, "y": {"datum": 4.91, "type": "quantitative", "scale": {"domain": [-2, 4.5], "nice": false}, "axis": null}, "text": {"field": "sp"}}}
 ],
 "resolve": {"axis": {"x": "independent", "y": "independent"}}
}
]
}
